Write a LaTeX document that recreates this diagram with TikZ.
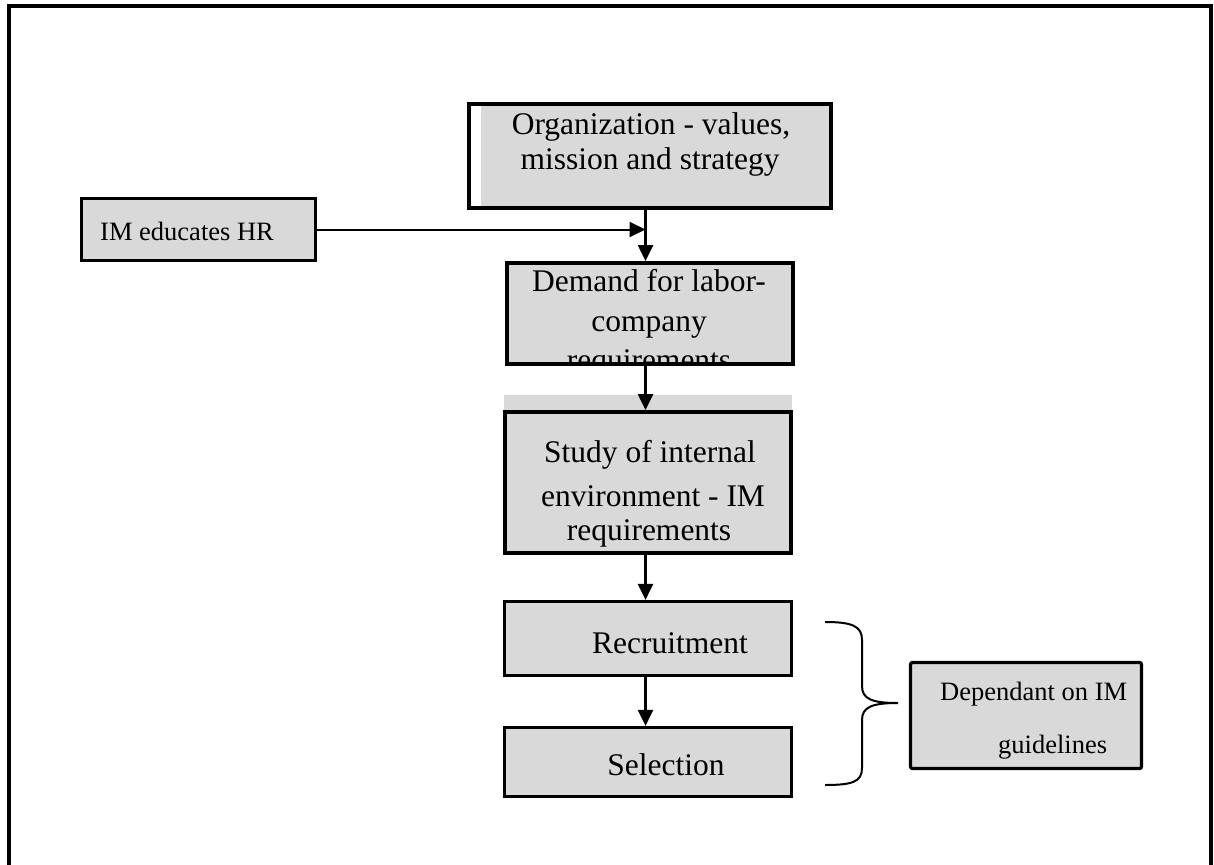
\documentclass[tikz,border=0pt]{standalone}
\usepackage{fontspec}
\setmainfont{Liberation Serif}
\usetikzlibrary{arrows.meta}
\definecolor{boxgray}{RGB}{217,217,217}
\tikzset{
  x=1pt, y=-1pt,
  boxA/.style={draw=black, line width=4pt, rectangle, inner sep=0pt},
  boxB/.style={draw=black, line width=3.2pt, rectangle, inner sep=0pt, fill=boxgray},
  bigtxt/.style={inner sep=0pt, anchor=base, font=\fontsize{31.5}{32}\selectfont},
  smalltxt/.style={inner sep=0pt, anchor=base west, font=\fontsize{26.5}{27}\selectfont},
  arr/.style={line width=2.6pt, -{Triangle[length=16pt,width=15pt]}},
}
\begin{document}
\begin{tikzpicture}
\useasboundingbox (0,0) rectangle (1214,864);
\clip (0,0) rectangle (1214,864);
\fill[white] (0,0) rectangle (1214,864);
% outer frame
\draw[line width=4pt] (9,900) -- (9,6) -- (1211,6) -- (1211,900);

% fills
\fill[boxgray] (481,104) rectangle (831,208);
\fill[boxgray] (504,395) rectangle (792,553);

% boxes
\node[boxA, minimum width=362pt, minimum height=104pt] (org) at (650,156) {};
\node[boxB, minimum width=234pt, minimum height=62pt] (im) at (198.5,229.5) {};
\node[boxA, fill=boxgray, minimum width=286pt, minimum height=101pt] (dem) at (650,313.5) {};
\node[boxA, minimum width=286pt, minimum height=141pt] (study) at (648,482.5) {};
\node[boxB, minimum width=287pt, minimum height=74pt] (rec) at (648,638.5) {};
\node[boxB, minimum width=287pt, minimum height=69pt] (sel) at (648,762) {};
\node[boxB, rounded corners=2pt, minimum width=231pt, minimum height=106pt] (dep) at (1026,715.5) {};

% texts
\node[bigtxt] (orgA) at (651,134) {Organization - values,};
\node[bigtxt] (orgB) at (650,169) {mission and strategy};
\node[smalltxt] (imT) at (100,240) {IM educates HR};
\begin{scope}
\clip (509,265) rectangle (791,362);
\node[bigtxt] (demA) at (649,291) {Demand for labor-};
\node[bigtxt] (demB) at (649,331) {company};
\node[bigtxt] (demC) at (649,370) {requirements};
\end{scope}
\node[bigtxt] (stA) at (650,462) {Study of internal};
\node[bigtxt] (stB) at (653,506) {environment - IM};
\node[bigtxt] (stC) at (649,540) {requirements};
\node[bigtxt] (recT) at (670,653) {Recruitment};
\node[bigtxt] (selT) at (666,775) {Selection};
\node[smalltxt] (depA) at (940,700) {Dependant on IM};
\node[smalltxt] (depB) at (998,753) {guidelines};

% connectors
\coordinate (ax) at (645.5,0);
\draw[arr] (org.south -| ax) -- (dem.north -| ax);
\draw[arr, line width=2pt] (im.east) -- (im.east -| ax);
\draw[arr] (dem.south -| ax) -- (study.north -| ax);
\draw[arr] (study.south -| ax) -- (rec.north -| ax);
\draw[arr] (rec.south -| ax) -- (sel.north -| ax);

% brace
\coordinate (brT) at (825,622);
\coordinate (brB) at (825,785);
\coordinate (brTip) at (898,703);
\draw[line width=2pt] (brT) .. controls (852,622) and (862,626) .. (862,640)
  -- (862,686) .. controls (862,699) and (872,703) .. (brTip)
  .. controls (872,703) and (862,707) .. (862,720)
  -- (862,768) .. controls (862,782) and (852,785) .. (brB);
\end{tikzpicture}
\end{document}
